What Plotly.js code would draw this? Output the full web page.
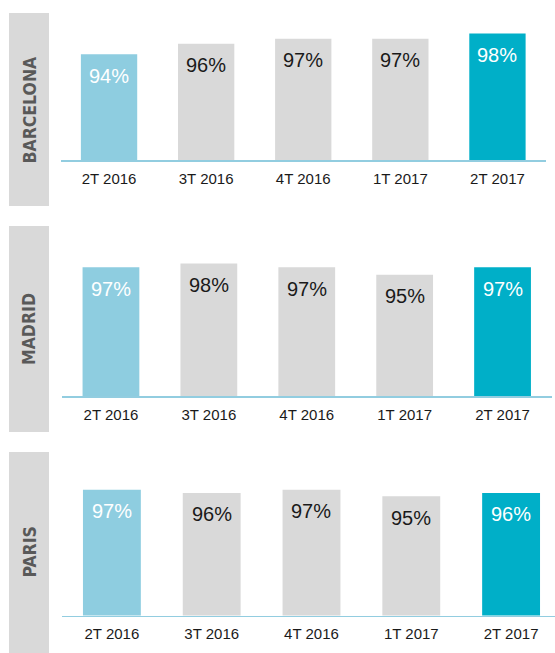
<!DOCTYPE html>
<html>
<head>
<meta charset="utf-8">
<script src="https://cdn.plot.ly/plotly-3.0.1.min.js"></script>
<style>
html,body{margin:0;padding:0;background:#fff;}
#chart{width:555px;height:653px;}
</style>
</head>
<body>
<div id="chart"></div>
<script>
// ---- data ----
const categories = ['2T 2016', '3T 2016', '4T 2016', '1T 2017', '2T 2017'];
const cities = ['BARCELONA', 'MADRID', 'PARIS'];
const barcelona = [94, 96, 97, 97, 98];
const madrid = [97, 98, 97, 95, 97];
const paris = [97, 96, 97, 95, 96];

// ---- styling / layout ----
const W = 555, H = 653;
const px = x => x / W;
const py = y => 1 - y / H;
const barColors = ['#8ecde0', '#d9d9d9', '#d9d9d9', '#d9d9d9', '#00afc8'];
const textColors = ['#ffffff', '#1a1a1a', '#1a1a1a', '#1a1a1a', '#ffffff'];
const numFont = '"Liberation Sans", Arial, Helvetica, sans-serif';
const cityFont = '"Liberation Sans Narrow", "Arial Narrow", "DejaVu Sans Condensed", sans-serif';

const panels = [
  {name: cities[0], vals: barcelona, xd: [60.5, 546], base: 160, top: 20, r0: 73.55, slope: 5.174, box: [13, 206], xr: [-0.5, 4.5]},
  {name: cities[1], vals: madrid, xd: [62, 551.5], base: 396, top: 250, r0: 62.6, slope: 3.74, box: [226, 432], xr: [-0.5, 4.5]},
  {name: cities[2], vals: paris, xd: [62, 555], base: 615.5, top: 470, r0: 58.44, slope: 3.264, box: [452, 653], xr: [-0.5, 4.44]}
];

const traces = [];
const layout = {
  width: W, height: H,
  margin: {l: 0, r: 0, t: 0, b: 0},
  paper_bgcolor: '#ffffff', plot_bgcolor: 'rgba(0,0,0,0)',
  showlegend: false,
  font: {family: numFont, color: '#1a1a1a'},
  shapes: [], annotations: []
};

panels.forEach((p, k) => {
  const n = k === 0 ? '' : String(k + 1);
  const xa = 'x' + n, ya = 'y' + n;
  traces.push({
    type: 'bar', x: categories, y: p.vals,
    xaxis: xa, yaxis: ya,
    width: 0.58,
    marker: {color: barColors, line: {width: 0}},
    hoverinfo: 'skip'
  });
  layout['xaxis' + n] = {
    domain: [px(p.xd[0]), Math.min(1, px(p.xd[1]))],
    anchor: ya, type: 'category', range: p.xr,
    showline: true, linecolor: '#92cde0', linewidth: 1.5,
    ticks: '', showgrid: false, zeroline: false,
    ticklabelstandoff: 4,
    tickfont: {family: numFont, size: 15, color: '#1a1a1a'},
    fixedrange: true
  };
  layout['yaxis' + n] = {
    domain: [py(p.base), py(p.top)],
    anchor: xa,
    range: [p.r0, p.r0 + (p.base - p.top) / p.slope],
    visible: false, showgrid: false, zeroline: false, fixedrange: true
  };
  // city label box
  layout.shapes.push({
    type: 'rect', xref: 'paper', yref: 'paper', layer: 'below',
    x0: px(9), x1: px(49), y0: py(p.box[1]), y1: py(p.box[0]),
    fillcolor: '#d9d9d9', line: {width: 0}
  });
  layout.annotations.push({
    xref: 'paper', yref: 'paper', x: px(29), y: py((p.box[0] + p.box[1]) / 2),
    text: '<b>' + p.name + '</b>', textangle: -90, showarrow: false,
    xanchor: 'center', yanchor: 'middle',
    font: {family: cityFont, size: 17.5, color: '#595959'}
  });
  // value labels
  p.vals.forEach((v, i) => {
    layout.annotations.push({
      xref: xa, yref: ya, x: categories[i], y: v,
      text: v + '%', showarrow: false,
      xanchor: 'center', yanchor: 'middle', yshift: -21.5,
      font: {family: numFont, size: 20, color: textColors[i]}
    });
  });
});

Plotly.newPlot('chart', traces, layout, {staticPlot: true, displayModeBar: false});
</script>
</body>
</html>
